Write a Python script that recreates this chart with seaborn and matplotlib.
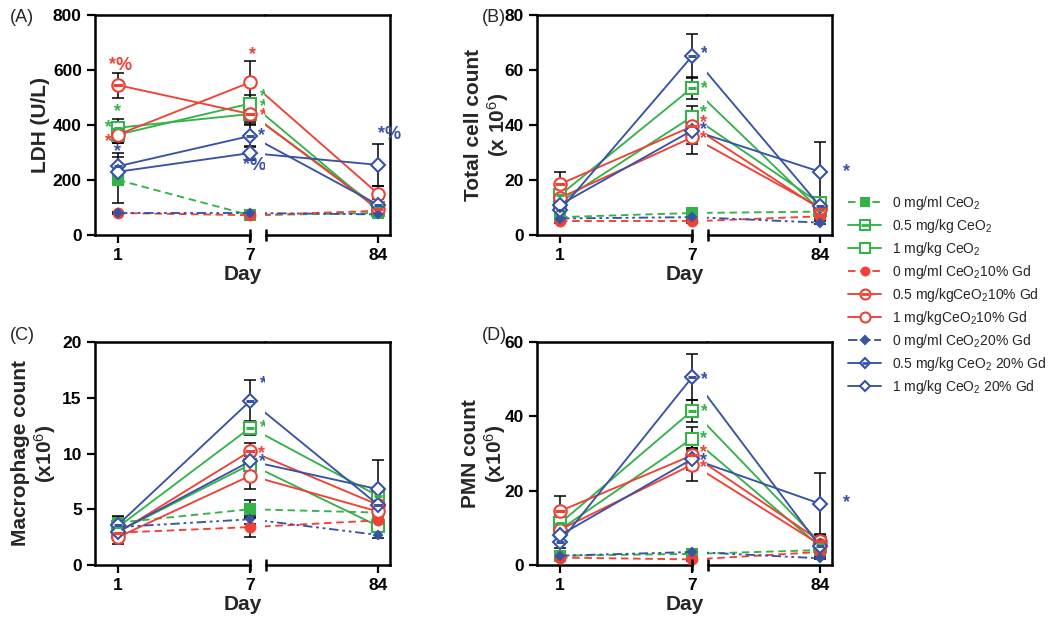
import matplotlib
matplotlib.use("Agg")
import numpy as np
import pandas as pd
import matplotlib.pyplot as plt
import seaborn as sns
from matplotlib.lines import Line2D

# ---------------- data ----------------
days = [1, 7, 84]
groups = ["0 mg/ml CeO$_2$", "0.5 mg/kg CeO$_2$", "1 mg/kg CeO$_2$",
          "0 mg/ml CeO$_2$10% Gd", "0.5 mg/kgCeO$_2$10% Gd", "1 mg/kgCeO$_2$10% Gd",
          "0 mg/ml CeO$_2$20% Gd", "0.5 mg/kg CeO$_2$ 20% Gd", "1 mg/kg CeO$_2$ 20% Gd"]

ldh_mean = [[200, 72, 80], [390, 440, 100], [365, 478, 90],
            [80, 72, 88], [545, 440, 95], [365, 555, 150],
            [80, 80, 75], [250, 360, 110], [230, 298, 255]]
ldh_err = [[85, 8, 10], [30, 35, 20], [30, 30, 20],
           [5, 5, 8], [45, 30, 20], [30, 78, 30],
           [5, 5, 8], [50, 40, 20], [20, 25, 75]]

total_mean = [[6.5, 8, 8.5], [14.5, 53.5, 9], [12, 43, 11.5],
              [5, 5, 6.8], [18.5, 39.5, 9.5], [13.5, 35.5, 10],
              [6, 6.5, 4.5], [9, 65, 10.5], [11, 38, 23]]
total_err = [[1, 1, 1], [3, 4, 2], [3, 4, 2],
             [0.5, 0.5, 1], [4.5, 5, 2], [3, 6, 2],
             [0.5, 0.5, 0.5], [3, 8, 2], [3, 5, 11]]

macro_mean = [[3.8, 5.0, 4.7], [3.4, 12.3, 6.2], [3.0, 9.0, 3.5],
              [2.9, 3.4, 4.0], [2.9, 10.2, 5.4], [2.5, 8.0, 4.8],
              [3.4, 4.1, 2.7], [3.6, 14.7, 5.4], [3.0, 9.3, 6.8]]
macro_err = [[0.5, 0.8, 0.5], [0.6, 0.6, 0.5], [0.5, 0.8, 0.5],
             [0.5, 0.9, 0.5], [0.5, 0.7, 0.5], [0.6, 1.2, 0.5],
             [0.5, 0.4, 0.3], [0.8, 1.9, 0.6], [0.5, 0.8, 2.6]]

pmn_mean = [[2.5, 3.0, 4.0], [11.2, 41.5, 6.0], [9.5, 34.0, 5.0],
            [2.0, 1.5, 3.5], [14.5, 29.5, 6.5], [9.5, 27.0, 5.5],
            [2.5, 3.5, 1.8], [6.2, 50.5, 5.0], [8.0, 28.5, 16.5]]
pmn_err = [[0.5, 0.5, 0.5], [2, 3, 1.5], [2, 3, 1.5],
           [0.3, 0.3, 0.5], [4, 3, 1.5], [2, 4.5, 1.5],
           [0.3, 0.5, 0.3], [1.5, 6.2, 1.5], [1.5, 3, 8.2]]

panel_names = ["A", "B", "C", "D"]
panel_ylabels = ["LDH (U/L)", "Total cell count\n(x 10$^6$)",
                 "Macrophage count\n(x10$^6$)", "PMN count\n(x10$^6$)"]
panel_yticks = [[0, 200, 400, 600, 800], [0, 20, 40, 60, 80],
                [0, 5, 10, 15, 20], [0, 20, 40, 60]]

# significance marks: (day-position, value, text, colour index)
marks_A = [(1.1, 618, "*%", 3), (1.0, 447, "*", 0), (0.55, 389, "*", 0),
           (0.55, 338, "*", 3), (1.0, 302, "*", 6), (7.1, 655, "*", 3),
           (7.6, 505, "*", 0), (7.6, 466, "*", 0), (7.6, 433, "*", 3),
           (7.5, 360, "*", 6), (7.2, 251, "*%", 6), (91, 364, "*%", 6)]
marks_B = [(7.55, 66, "*", 6), (7.55, 53.3, "*", 0), (7.5, 44.4, "*", 0),
           (7.5, 40.7, "*", 3), (7.5, 38.2, "*", 6), (7.5, 35.2, "*", 3),
           (100, 23, "*", 6)]
marks_C = [(7.6, 16.3, "*", 6), (7.6, 12.3, "*", 0), (7.5, 10.0, "*", 3),
           (7.55, 9.3, "*", 6)]
marks_D = [(7.55, 50, "*", 6), (7.55, 41.4, "*", 0), (7.5, 34, "*", 0),
           (7.5, 30.2, "*", 3), (7.5, 28, "*", 6), (7.5, 26.2, "*", 3),
           (100, 16.8, "*", 6)]

# ---------------- long table ----------------
panel_means = [ldh_mean, total_mean, macro_mean, pmn_mean]
panel_errs = [ldh_err, total_err, macro_err, pmn_err]
panel_marks = [marks_A, marks_B, marks_C, marks_D]
rows = []
for p, mean, err in zip(panel_names, panel_means, panel_errs):
    for g, mv, ev in zip(groups, mean, err):
        for d, m, e in zip(days, mv, ev):
            rows.append(dict(panel=p, group=g, day=d, value=m, err=e))
df = pd.DataFrame(rows)

# ---------------- style ----------------
sns.set_theme(style="ticks")
plt.rcParams["font.family"] = ["Liberation Sans", "DejaVu Sans"]
plt.rcParams["mathtext.fontset"] = "custom"
plt.rcParams["mathtext.rm"] = "Liberation Sans"
plt.rcParams["mathtext.it"] = "Liberation Sans:italic"
plt.rcParams["mathtext.bf"] = "Liberation Sans:bold"

GREEN, RED, BLUE = "#35b24a", "#ef4136", "#3953a4"
colors = [GREEN] * 3 + [RED] * 3 + [BLUE] * 3
shapes = ["s", "o", "D"]
dash_gr = (0, (4, 2.5))
dash_bl = (0, (5, 2, 1.5, 2, 1.5, 2))


def style(i):
    col = colors[i]
    shp = shapes[i // 3]
    dose = i % 3
    st = dict(color=col, marker=shp, mec=col, mew=1.5, lw=1.35)
    if dose == 0:
        st["linestyle"] = dash_bl if i == 6 else dash_gr
        st["mfc"] = col
        st["ms"] = {"s": 6.5, "o": 7, "D": 4.5}[shp]
    else:
        st["linestyle"] = "-"
        st["mfc"] = "white"
        st["ms"] = {"s": 8.5, "o": 9, "D": 7}[shp]
    return st


W, H = 1050, 625
fig = plt.figure(figsize=(W / 100, H / 100), dpi=100)

layout = {"A": (95, 15, 235), "B": (537, 15, 235),
          "C": (95, 342, 565), "D": (537, 342, 565)}
LW_PX, RW_PX = 170, 125
XL = (-0.045, 7.68)
XR = (15.49, 91.28)
XR_START = 16.2
letters_pos = {"A": (10, 18), "B": (482, 18), "C": (10, 335), "D": (482, 335)}
label_x = {"A": 50, "B": 511, "C": 58, "D": 508}

for pi, p in enumerate(panel_names):
    left, top, bottom = layout[p]
    hfrac = (bottom - top) / H
    axL = fig.add_axes([left / W, 1 - bottom / H, LW_PX / W, hfrac])
    axR = fig.add_axes([(left + LW_PX) / W, 1 - bottom / H, RW_PX / W, hfrac])
    ymax = panel_yticks[pi][-1]
    sub_p = df[df.panel == p]
    for i, g in enumerate(groups):
        st = style(i)
        sub = sub_p[sub_p.group == g]
        lsub = sub[sub.day <= 7]
        rsub = sub[sub.day >= 7]
        axL.errorbar(lsub.day, lsub.value, yerr=lsub.err, fmt="none", ecolor="black",
                     elinewidth=1.1, capsize=4, capthick=1.1, zorder=2)
        r84 = sub[sub.day == 84]
        axR.errorbar(r84.day, r84.value, yerr=r84.err, fmt="none", ecolor="black",
                     elinewidth=1.1, capsize=4, capthick=1.1, zorder=2)
        sns.lineplot(data=lsub, x="day", y="value", ax=axL, errorbar=None,
                     legend=False, zorder=3 + i * 0.01, **st)
        sns.lineplot(data=rsub, x="day", y="value", ax=axR, errorbar=None,
                     legend=False, markevery=[1], zorder=3 + i * 0.01, **st)
        if i % 3 == 1:
            axL.plot(lsub.day, lsub.value, marker="_", ls="none", color=st["color"],
                     ms=st["ms"] * 0.75, mew=2.2, zorder=3.5)
            axR.plot(r84.day, r84.value, marker="_", ls="none", color=st["color"],
                     ms=st["ms"] * 0.75, mew=2.2, zorder=3.5)

    for ax in (axL, axR):
        ax.set_ylim(0, ymax)
        ax.set_xlabel("")
        ax.set_ylabel("")
        for s in ax.spines.values():
            s.set_linewidth(1.8)
            s.set_color("black")
        ax.tick_params(axis="both", direction="out", length=6, width=1.6,
                       labelsize=12.5, color="black", labelcolor="black")
    axL.set_xlim(*XL)
    axR.set_xlim(*XR)
    axL.set_xticks([1, 7])
    axL.set_xticklabels(["1", "7"], fontweight="bold", fontsize=12.5)
    axR.set_xticks([84])
    axR.set_xticklabels(["84"], fontweight="bold", fontsize=12.5)
    axL.set_yticks(panel_yticks[pi])
    axL.set_yticklabels([str(v) for v in panel_yticks[pi]], fontweight="bold", fontsize=12.5)
    axR.set_yticks([])
    axL.spines["right"].set_visible(False)
    axR.spines["left"].set_visible(False)
    axL.spines["bottom"].set_bounds(XL[0], 7)
    axR.spines["bottom"].set_bounds(XR_START, XR[1])
    axL.plot([7], [0], transform=axL.get_xaxis_transform(), marker="|", ms=9,
             mew=1.8, color="black", clip_on=False, zorder=5)
    axR.plot([XR_START], [0], transform=axR.get_xaxis_transform(), marker="|", ms=9,
             mew=1.8, color="black", clip_on=False, zorder=5)
    axL.set_ylabel(panel_ylabels[pi], fontsize=15, fontweight="bold", linespacing=1.1)
    axL.yaxis.set_label_coords((label_x[p] - left) / LW_PX, 0.5)

    for (x, y, txt, ci) in panel_marks[pi]:
        ax = axL if x < 10 else axR
        ax.text(x, y, txt, color=colors[ci], fontsize=13, fontweight="bold",
                ha="center", va="center", zorder=6)

    lx, ly = letters_pos[p]
    fig.text(lx / W, 1 - ly / H, f"({p})", fontsize=13, ha="left", va="center")
    fig.text((left + 148) / W, 1 - (bottom + 40) / H, "Day", fontsize=15,
             fontweight="bold", ha="center", va="center")

# ---------------- legend ----------------
handles = []
for i in range(9):
    st = style(i)
    h = Line2D([], [], color=st["color"], linestyle=st["linestyle"], lw=st["lw"],
               marker=st["marker"], ms=st["ms"] * 0.8, mfc=st["mfc"], mec=st["mec"],
               mew=st["mew"])
    if i % 3 == 1:
        h2 = Line2D([], [], ls="none", marker="_", color=st["color"],
                    ms=st["ms"] * 0.6, mew=2.0)
        h = (h, h2)
    handles.append(h)
fig.legend(handles, groups, loc="upper left", bbox_to_anchor=(848 / W, 1 - 194 / H),
           frameon=False, fontsize=10, labelspacing=0.36, handlelength=2.4,
           handletextpad=0.75, borderpad=0, borderaxespad=0)

fig.savefig("out.png", dpi=100)
